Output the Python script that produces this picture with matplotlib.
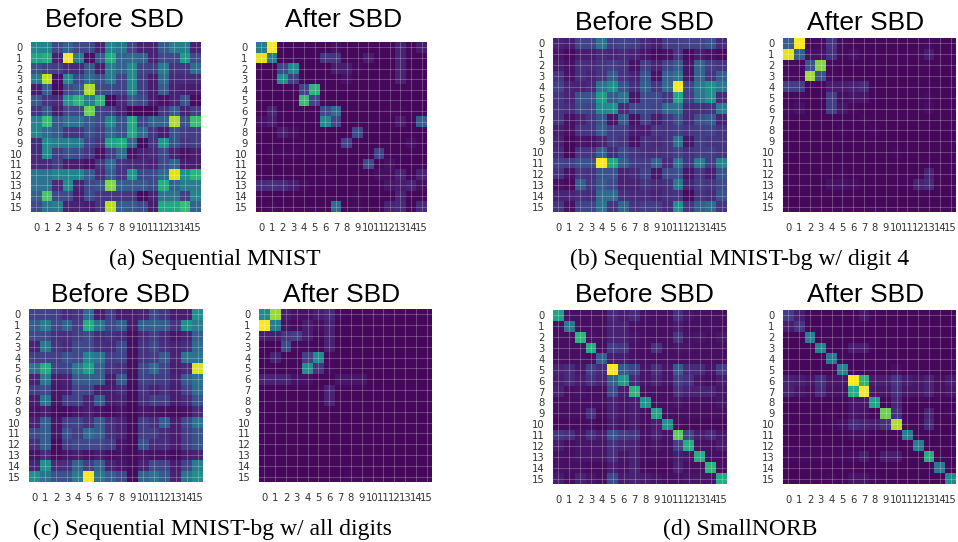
import numpy as np
import matplotlib
matplotlib.use("Agg")
import matplotlib.pyplot as plt

ticks = list(range(16))

aBefore = [
    [45,45,22,32,22,22,10,45,38,20,10,10,28,42,42,10],
    [58,62,10,100,42,5,28,62,32,35,32,10,22,22,55,22],
    [25,20,18,12,12,28,8,42,32,48,20,18,42,15,15,35],
    [42,90,5,48,22,35,25,40,20,48,18,8,35,12,12,12],
    [8,30,3,22,28,88,22,22,20,48,18,8,28,10,8,8],
    [28,15,12,52,65,42,65,3,12,28,22,8,5,10,25,3],
    [15,28,8,22,22,78,20,18,10,2,2,2,15,30,10,18],
    [45,68,28,38,38,28,22,48,25,60,20,32,32,88,25,68],
    [45,35,28,15,15,25,18,35,25,60,35,15,8,25,18,18],
    [12,48,42,42,40,20,15,58,62,32,3,15,52,25,15,18],
    [12,48,18,25,22,15,5,18,35,5,10,12,22,10,5,8],
    [12,12,18,8,8,5,15,35,15,12,12,10,22,32,8,8],
    [38,38,45,45,45,28,12,30,15,52,22,22,35,95,50,65],
    [38,38,12,48,10,22,25,82,30,28,28,22,62,32,42,42],
    [30,72,22,22,8,22,15,15,15,15,3,10,38,38,18,45],
    [22,38,42,10,10,8,15,90,30,28,22,8,60,60,68,32],
]
aAfter = [
    [42,100,2,2,2,2,2,5,2,2,2,2,2,10,2,8],
    [96,42,2,2,2,2,15,15,2,2,8,2,2,10,2,2],
    [2,2,22,48,2,2,2,8,8,3,2,2,2,10,2,2],
    [2,2,50,18,2,2,2,2,5,2,2,2,2,10,2,2],
    [2,2,2,2,20,65,2,2,2,2,2,2,2,2,2,2],
    [2,2,2,2,68,20,2,2,2,2,2,2,2,2,2,2],
    [2,10,2,2,2,2,22,35,2,2,2,2,3,3,2,2],
    [5,8,2,2,2,2,48,20,2,2,2,2,2,8,2,30],
    [2,2,8,4,2,2,2,2,2,22,2,2,2,2,2,2],
    [2,2,2,2,2,2,2,2,20,2,2,2,2,2,5,2],
    [2,3,3,3,2,2,2,2,2,2,2,20,2,2,2,2],
    [2,2,2,2,2,2,2,2,2,2,22,2,5,2,2,2],
    [2,2,2,2,2,2,3,2,2,2,2,4,4,10,2,10],
    [12,14,12,8,4,2,2,2,2,2,2,2,6,8,10,4],
    [2,2,2,2,2,2,2,2,2,3,2,2,2,10,2,2],
    [2,3,2,2,2,2,2,35,2,3,2,2,10,12,2,12],
]
bBefore = [
    [10,8,20,20,38,18,20,18,12,8,18,18,20,20,25,12],
    [6,3,8,8,12,10,12,10,6,3,5,15,3,8,5,3],
    [8,5,14,12,15,18,15,5,18,10,20,30,6,32,18,15],
    [15,5,14,10,15,28,15,10,25,5,30,38,6,32,15,30],
    [20,10,10,12,38,50,25,14,30,15,35,100,20,40,50,40],
    [15,10,25,25,55,28,38,6,22,22,15,60,18,38,50,12],
    [15,12,22,20,48,50,12,22,22,20,35,38,12,14,15,42],
    [15,5,10,15,25,6,28,5,18,8,15,25,12,25,30,10],
    [8,5,15,15,30,18,18,8,8,15,15,18,15,18,20,15],
    [10,2,6,5,10,18,15,5,14,12,15,38,6,18,15,15],
    [12,2,15,15,32,12,22,15,14,14,15,20,14,18,18,15],
    [20,18,25,25,100,60,30,18,18,32,12,38,15,42,18,45],
    [15,5,15,14,25,25,10,12,20,6,22,25,6,15,8,25],
    [5,3,30,15,28,22,10,10,15,12,14,40,10,18,15,22],
    [10,10,14,12,35,35,14,12,12,10,14,15,3,15,12,25],
    [15,5,20,20,38,15,32,15,18,18,12,50,15,30,35,15],
]
bAfter = [
    [30,100,2,3,15,3,2,2,2,2,2,2,2,3,2,2],
    [96,30,5,5,14,3,5,3,2,2,2,2,3,8,2,2],
    [3,3,25,82,3,2,2,2,2,2,2,2,2,2,2,2],
    [3,3,86,25,3,2,2,2,2,2,2,2,2,2,2,2],
    [18,18,2,2,8,8,10,12,2,2,2,2,2,2,2,2],
    [2,3,2,2,18,4,6,6,2,2,2,2,2,3,2,2],
    [3,5,2,2,18,6,3,2,2,2,2,2,2,4,2,2],
    [2,2,2,2,2,2,2,3,2,2,2,2,2,2,2,2],
    [2,2,2,2,2,3,2,2,3,2,2,2,2,2,2,2],
    [2,2,2,2,2,2,2,2,2,2,2,2,2,2,2,2],
    [2,2,2,2,2,2,2,2,2,2,3,2,2,2,2,2],
    [2,2,2,2,2,2,2,2,2,2,2,2,2,2,2,2],
    [2,2,2,2,2,3,2,2,2,2,2,2,2,10,2,2],
    [2,2,2,2,5,5,4,2,2,2,2,2,10,12,2,2],
    [2,2,2,2,2,2,2,2,2,2,2,2,2,2,2,2],
    [2,2,2,2,2,2,2,2,2,2,2,2,2,2,2,2],
]
cBefore = [
    [20,20,18,12,15,35,8,18,8,8,10,22,15,8,8,50],
    [30,42,22,32,18,62,38,22,30,8,30,32,30,15,50,42],
    [22,22,14,14,18,22,12,14,12,4,12,18,12,6,10,30],
    [10,40,15,12,22,22,14,12,22,4,15,22,14,10,14,35],
    [18,20,18,25,22,45,38,18,20,4,15,18,28,10,38,38],
    [38,62,20,20,40,58,30,15,14,4,22,35,20,8,12,95],
    [10,40,8,10,28,30,30,8,28,4,20,18,18,10,28,38],
    [18,22,6,8,20,20,8,8,12,3,15,10,14,8,20,35],
    [8,38,6,18,20,10,28,8,10,3,14,18,18,8,12,25],
    [5,8,3,3,6,8,5,3,5,2,6,5,4,3,5,12],
    [10,30,6,18,20,14,28,14,10,3,18,14,30,8,22,38],
    [22,30,6,25,18,35,30,14,10,3,18,18,12,8,18,25],
    [14,30,3,18,22,22,22,18,6,3,25,12,14,8,18,25],
    [5,12,3,6,8,5,8,4,5,3,6,5,5,3,8,10],
    [10,50,12,14,32,18,30,10,6,3,10,22,20,8,20,42],
    [50,38,25,25,42,100,40,30,22,3,32,38,28,10,38,50],
]
cAfter = [
    [48,85,8,5,5,8,12,3,2,2,3,3,2,2,2,2],
    [100,42,5,3,8,4,10,2,2,2,2,2,2,2,2,2],
    [8,8,15,18,8,3,10,2,2,2,2,2,2,2,2,2],
    [2,2,22,3,3,2,10,2,2,2,2,2,2,2,2,2],
    [2,10,2,2,18,48,3,2,2,2,2,2,2,2,2,2],
    [2,2,2,2,50,15,3,2,2,2,2,2,2,2,2,2],
    [10,10,10,5,5,2,2,6,6,6,2,2,2,2,2,2],
    [2,2,2,2,2,2,10,2,2,2,2,2,2,2,2,2],
    [2,2,2,2,2,2,10,2,2,2,2,2,2,2,2,2],
    [2,2,2,2,2,2,2,2,2,2,2,2,2,2,2,2],
    [2,2,2,2,2,2,2,2,2,2,2,2,2,2,2,2],
    [2,2,2,2,2,2,2,2,2,2,2,2,2,2,2,2],
    [2,2,2,2,2,2,2,2,2,2,2,2,2,2,2,2],
    [2,2,2,2,2,2,2,2,2,2,2,2,2,2,2,2],
    [2,2,2,2,2,2,2,2,2,2,2,2,2,2,2,2],
    [2,2,2,2,2,2,2,2,3,2,2,2,2,2,2,2],
]
dBefore = [
    [58,5,4,4,4,12,8,12,5,4,4,14,6,4,4,4],
    [4,40,4,4,4,10,10,5,4,4,4,8,4,4,4,4],
    [4,4,65,5,4,10,10,6,4,4,4,15,5,6,4,6],
    [4,4,4,62,4,18,16,5,4,14,4,6,5,4,4,4],
    [4,4,4,4,30,8,8,5,4,4,4,5,4,4,4,4],
    [10,12,6,18,12,100,28,20,6,14,6,28,12,12,6,18],
    [8,12,8,14,10,32,55,12,6,10,6,18,14,6,4,8],
    [10,4,5,4,4,22,8,65,4,5,4,14,10,10,10,6],
    [4,4,4,4,4,10,6,8,52,4,4,6,4,4,4,6],
    [4,4,4,14,3,10,6,8,4,58,4,4,4,4,4,4],
    [3,3,3,4,2,8,5,8,4,8,50,4,3,3,3,3],
    [16,14,6,14,8,26,18,16,5,10,5,75,20,8,12,6],
    [8,4,6,6,6,14,10,10,4,6,4,18,62,5,5,8],
    [5,4,6,6,6,14,6,10,4,4,4,8,6,62,4,4],
    [5,4,4,3,3,8,5,10,3,3,3,10,4,4,65,4],
    [8,4,10,6,4,22,8,10,8,6,4,5,6,6,6,62],
]
dAfter = [
    [18,8,2,2,2,2,2,7,2,2,2,2,2,2,2,2],
    [8,15,2,2,2,2,2,2,2,2,2,2,2,2,2,2],
    [2,2,42,2,2,2,2,2,2,2,2,2,2,2,2,2],
    [2,2,2,45,2,2,8,8,2,2,2,2,2,2,2,2],
    [2,2,2,2,40,2,2,2,2,2,2,2,2,2,2,2],
    [2,2,2,2,2,45,2,2,2,2,4,2,2,2,2,2],
    [10,8,6,14,6,6,100,65,8,8,15,8,6,10,4,8],
    [10,6,4,12,5,5,62,100,6,6,14,6,6,10,4,6],
    [2,2,2,2,2,2,6,6,58,2,10,2,2,2,2,2],
    [2,2,2,2,3,2,6,5,2,78,14,2,2,10,2,3],
    [2,2,2,2,3,5,12,10,8,14,88,3,3,12,2,2],
    [2,2,2,2,2,2,4,4,2,2,2,42,2,2,2,2],
    [2,2,2,2,2,2,2,2,2,2,2,2,42,2,2,2],
    [3,3,3,3,3,3,4,8,2,8,8,2,2,62,2,2],
    [2,2,2,2,2,2,2,2,2,2,2,2,2,2,40,2],
    [2,2,2,2,3,2,6,6,3,2,2,2,2,2,2,48],
]

W, H = 958, 542
fig = plt.figure(figsize=(W / 100, H / 100), dpi=100)


# left, right, top, bottom in pixels
def drawPanel(values, left, right, top, bottom):
    ax = fig.add_axes([left / W, 1 - bottom / H, (right - left) / W, (bottom - top) / H])
    ax.imshow(np.array(values), cmap="viridis", vmin=0, vmax=100, aspect="auto", interpolation="nearest")
    ax.set_xticks(ticks)
    ax.set_yticks(ticks)
    ax.set_xticklabels(ticks)
    ax.set_yticklabels(ticks)
    ax.tick_params(length=0, labelsize=7.2, labelcolor="#333333", pad=6)
    ax.tick_params(axis="x", pad=8)
    ax.grid(color="white", alpha=0.25, linewidth=0.7)
    for s in ax.spines.values():
        s.set_visible(False)


def pixelText(x, y, s, **kw):
    fig.text(x / W, 1 - y / H, s, ha="center", va="baseline", **kw)


drawPanel(aBefore, 31, 201, 42, 212)
drawPanel(aAfter, 256, 427, 42, 212)
drawPanel(bBefore, 553, 727, 38, 212)
drawPanel(bAfter, 783, 956, 38, 212)
drawPanel(cBefore, 29, 203, 309, 482)
drawPanel(cAfter, 259, 432, 309, 482)
drawPanel(dBefore, 553, 727, 310, 484)
drawPanel(dAfter, 783, 956, 310, 484)

titleFont = dict(family="Liberation Sans", fontsize=19, color="black")
pixelText(114.5, 27, "Before SBD", **titleFont)
pixelText(344, 27, "After SBD", **titleFont)
pixelText(644, 30, "Before SBD", **titleFont)
pixelText(866, 30, "After SBD", **titleFont)
pixelText(120, 302, "Before SBD", **titleFont)
pixelText(342, 302, "After SBD", **titleFont)
pixelText(644, 302, "Before SBD", **titleFont)
pixelText(866, 302, "After SBD", **titleFont)

capFont = dict(family="Liberation Serif", fontsize=17, color="black")
pixelText(215, 265, "(a) Sequential MNIST", **capFont)
pixelText(740, 265, "(b) Sequential MNIST-bg w/ digit 4", **capFont)
pixelText(212, 535, "(c) Sequential MNIST-bg w/ all digits", **capFont)
pixelText(740, 535, "(d) SmallNORB", **capFont)

fig.savefig("out.png", dpi=100)
